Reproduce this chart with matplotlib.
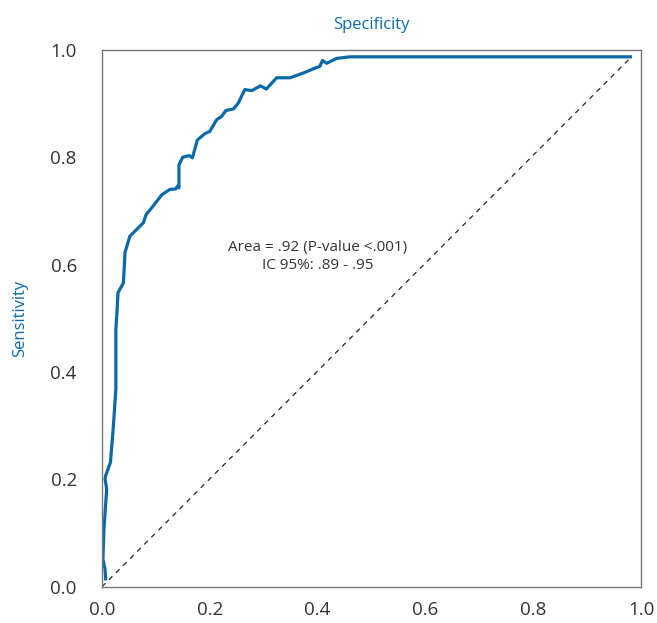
import matplotlib
matplotlib.use('Agg')
import matplotlib.pyplot as plt

# ROC curve (1 - specificity, sensitivity)
fpr = [0.007, 0.006, 0.002, 0.004, 0.009, 0.006, 0.007, 0.016, 0.021, 0.026,
       0.026, 0.026, 0.028, 0.030, 0.040, 0.043, 0.052, 0.077, 0.082, 0.095,
       0.111, 0.126, 0.137, 0.140, 0.143, 0.143, 0.150, 0.162, 0.168, 0.177,
       0.191, 0.200, 0.213, 0.222, 0.230, 0.244, 0.253, 0.265, 0.278, 0.294,
       0.305, 0.324, 0.349, 0.374, 0.395, 0.404, 0.409, 0.417, 0.435, 0.460,
       0.980]
tpr = [0.015, 0.033, 0.052, 0.108, 0.182, 0.201, 0.207, 0.232, 0.294, 0.368,
       0.461, 0.480, 0.510, 0.548, 0.566, 0.623, 0.653, 0.678, 0.693, 0.709,
       0.730, 0.740, 0.741, 0.746, 0.743, 0.786, 0.800, 0.803, 0.799, 0.832,
       0.844, 0.848, 0.870, 0.876, 0.887, 0.890, 0.901, 0.926, 0.924, 0.933,
       0.927, 0.948, 0.948, 0.957, 0.966, 0.969, 0.980, 0.975, 0.984, 0.987,
       0.987]
diag_x = [0.0, 0.98]
diag_y = [0.0, 0.985]
ticks = [0.0, 0.2, 0.4, 0.6, 0.8, 1.0]
note = 'Area = .92 (P-value <.001)\nIC 95%: .89 - .95'

plt.rcParams['font.family'] = ['Open Sans', 'DejaVu Sans']
blue = '#0a6aa8'
grey = '#333333'

fig = plt.figure(figsize=(6.57, 6.23), dpi=100)
ax = fig.add_axes([0.155, 0.058, 0.821, 0.862])

ax.plot(diag_x, diag_y, color='#222222', lw=0.9, ls=(0, (4, 4)))
ax.plot(fpr, tpr, color=blue, lw=2.3, solid_joinstyle='round')

ax.set_xlim(0, 1)
ax.set_ylim(0, 1)
ax.set_xticks(ticks)
ax.set_yticks(ticks)
ax.set_xticklabels(['%.1f' % t for t in ticks])
ax.set_yticklabels(['%.1f' % t for t in ticks])
ax.tick_params(length=0, labelsize=13.5, colors=grey)
ax.tick_params(axis='x', pad=10)
ax.tick_params(axis='y', pad=18)
for s in ax.spines.values():
    s.set_color('#777777')
    s.set_linewidth(1.0)

ax.set_title('Specificity', color=blue, fontsize=12, pad=15)
ax.set_ylabel('Sensitivity', color=blue, fontsize=12, labelpad=16)

ax.text(0.40, 0.615, note, ha='center', va='center', multialignment='center',
        fontsize=11, color=grey, linespacing=1.25)

fig.savefig('out.png', dpi=100)
